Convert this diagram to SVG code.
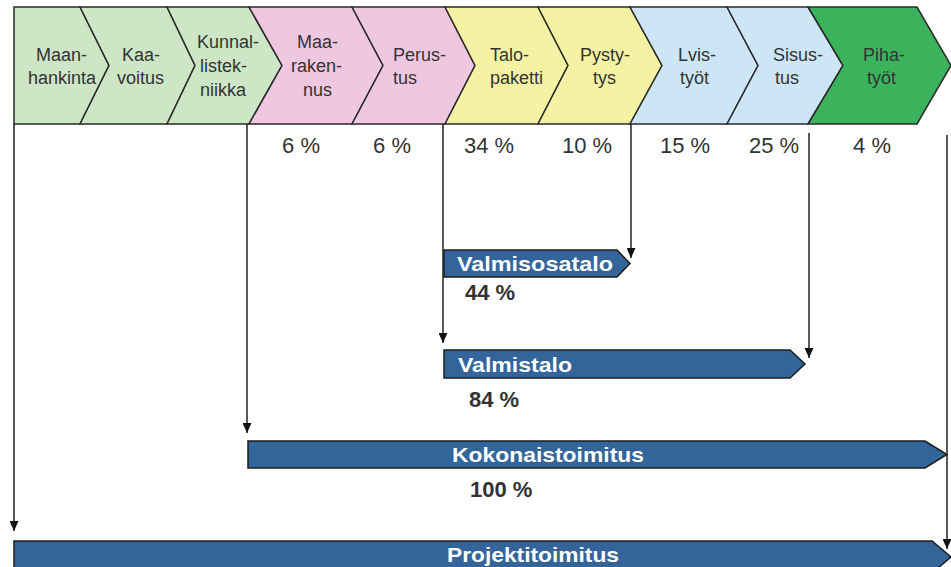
<svg xmlns="http://www.w3.org/2000/svg" width="951" height="567" viewBox="0 0 951 567">
<defs>
<marker id="ah" markerWidth="10" markerHeight="9" refX="10" refY="4.5" orient="auto" markerUnits="userSpaceOnUse">
<path d="M0,0 L10,4.5 L0,9 z" fill="#111"/>
</marker>
<style>
.chev{stroke:#2a2a2a;stroke-width:1.5;stroke-linejoin:miter}
.g1{fill:#cde6c6}.pk{fill:#efc7e0}.ye{fill:#f5f3a3}.bl{fill:#cde6f6}.g2{fill:#3bb35c}
.lbl{font-family:"Liberation Sans",Arial,sans-serif;font-size:18px;fill:#333}
.pct{font-family:"Liberation Sans",Arial,sans-serif;font-size:22px;fill:#333;text-anchor:middle}
.bpct{font-family:"Liberation Sans",Arial,sans-serif;font-size:22px;font-weight:bold;fill:#333}
.bar{fill:#33649a;stroke:#1c1c1c;stroke-width:1.5}
.bt{font-family:"Liberation Sans",Arial,sans-serif;font-size:21px;font-weight:bold;fill:#fff}
.con{fill:none;stroke:#222;stroke-width:1.5}
</style>
</defs>
<rect width="951" height="567" fill="#fff"/>

<g id="maanhankinta">
<polygon class="chev g1" points="14,7 80,7 109,65.5 80,124 14,124"/>
<text class="lbl" x="36" y="61">Maan-</text>
<text class="lbl" x="28" y="84">hankinta</text>
</g>
<g id="kaavoitus">
<polygon class="chev g1" points="80,7 167,7 195,65.5 167,124 80,124 109,65.5"/>
<text class="lbl" x="122" y="61">Kaa-</text>
<text class="lbl" x="117" y="84">voitus</text>
</g>
<g id="kunnallistekniikka">
<polygon class="chev g1" points="167,7 249,7 282,65.5 249,124 167,124 195,65.5"/>
<text class="lbl" x="197" y="48">Kunnal-</text>
<text class="lbl" x="200" y="72">listek-</text>
<text class="lbl" x="200" y="96">niikka</text>
</g>
<g id="maarakennus">
<polygon class="chev pk" points="249,7 352,7 383,65.5 352,124 249,124 282,65.5"/>
<text class="lbl" x="297" y="48">Maa-</text>
<text class="lbl" x="291" y="72">raken-</text>
<text class="lbl" x="303" y="96">nus</text>
</g>
<g id="perustus">
<polygon class="chev pk" points="352,7 445,7 475,65.5 445,124 352,124 383,65.5"/>
<text class="lbl" x="393" y="61">Perus-</text>
<text class="lbl" x="393" y="84">tus</text>
</g>
<g id="talopaketti">
<polygon class="chev ye" points="445,7 538,7 568,65.5 538,124 445,124 475,65.5"/>
<text class="lbl" x="490" y="61">Talo-</text>
<text class="lbl" x="490" y="84">paketti</text>
</g>
<g id="pystytys">
<polygon class="chev ye" points="538,7 630,7 662,65.5 630,124 538,124 568,65.5"/>
<text class="lbl" x="580" y="61">Pysty-</text>
<text class="lbl" x="593" y="84">tys</text>
</g>
<g id="lvistyot">
<polygon class="chev bl" points="630,7 727,7 758,65.5 727,124 630,124 662,65.5"/>
<text class="lbl" x="678" y="61">Lvis-</text>
<text class="lbl" x="680" y="84">työt</text>
</g>
<g id="sisustus">
<polygon class="chev bl" points="727,7 808,7 843,65.5 808,124 727,124 758,65.5"/>
<text class="lbl" x="773" y="61">Sisus-</text>
<text class="lbl" x="775" y="84">tus</text>
</g>
<g id="pihatyot">
<polygon class="chev g2" points="808,7 917,7 951,65.5 917,124 808,124 843,65.5"/>
<text class="lbl" x="863" y="61">Piha-</text>
<text class="lbl" x="867" y="84">työt</text>
</g>

<g id="percentages">
<text class="pct" x="301" y="153">6 %</text>
<text class="pct" x="392" y="153">6 %</text>
<text class="pct" x="489" y="153">34 %</text>
<text class="pct" x="587" y="153">10 %</text>
<text class="pct" x="685" y="153">15 %</text>
<text class="pct" x="774" y="153">25 %</text>
<text class="pct" x="872" y="153">4 %</text>
</g>

<g id="connectors">
<line class="con" x1="14" y1="124" x2="14" y2="531" marker-end="url(#ah)"/>
<line class="con" x1="247" y1="124" x2="247" y2="433" marker-end="url(#ah)"/>
<line class="con" x1="443" y1="124" x2="443" y2="343" marker-end="url(#ah)"/>
<line class="con" x1="631" y1="124" x2="631" y2="258" marker-end="url(#ah)"/>
<line class="con" x1="809" y1="133" x2="809" y2="358" marker-end="url(#ah)"/>
<line class="con" x1="947" y1="135" x2="947" y2="549" marker-end="url(#ah)"/>
</g>

<g id="valmisosatalo">
<polygon class="bar" points="444,250 617,250 630,263.5 617,277 444,277"/>
<text class="bt" x="457" y="271" textLength="156" lengthAdjust="spacingAndGlyphs">Valmisosatalo</text>
<text class="bpct" x="465" y="300">44 %</text>
</g>
<g id="valmistalo">
<polygon class="bar" points="444,350 790,350 805,364 790,378 444,378"/>
<text class="bt" x="458" y="372" textLength="114" lengthAdjust="spacingAndGlyphs">Valmistalo</text>
<text class="bpct" x="469" y="407">84 %</text>
</g>
<g id="kokonaistoimitus">
<polygon class="bar" points="248,441 925,441 947,454.5 925,468 248,468"/>
<text class="bt" x="548" y="462" text-anchor="middle" textLength="192" lengthAdjust="spacingAndGlyphs">Kokonaistoimitus</text>
<text class="bpct" x="470" y="497">100 %</text>
</g>
<g id="projektitoimitus">
<polygon class="bar" points="14,541 932,541 951,557 932,573 14,573"/>
<text class="bt" x="533" y="562" text-anchor="middle" textLength="172" lengthAdjust="spacingAndGlyphs">Projektitoimitus</text>
</g>
</svg>
